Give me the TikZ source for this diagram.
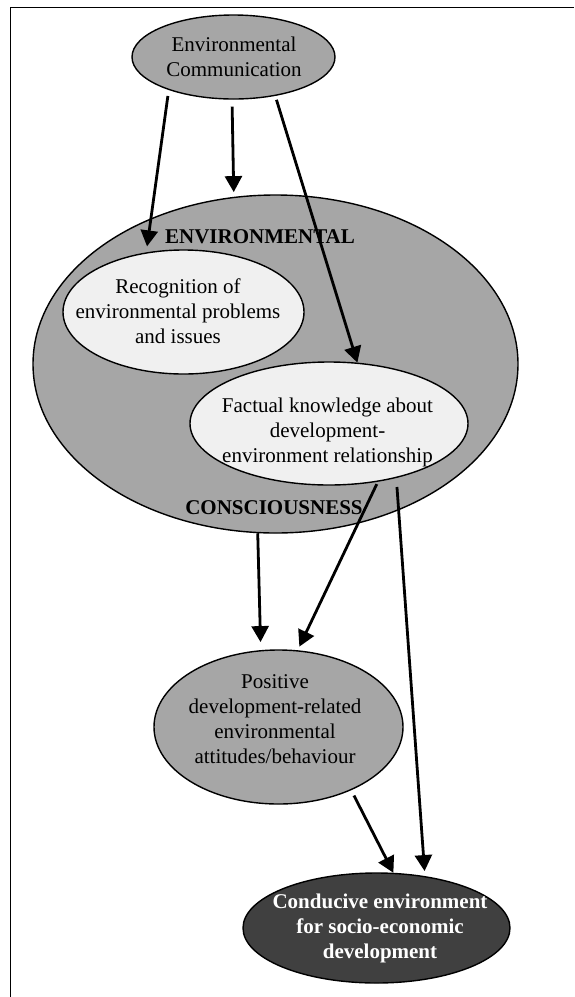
\documentclass[tikz,border=0pt]{standalone}
\usepackage{fontspec}
\setmainfont{Liberation Serif}
\usetikzlibrary{arrows.meta,shapes.geometric}
\definecolor{midgray}{RGB}{166,166,166}
\definecolor{palegray}{RGB}{240,240,240}
\definecolor{deepgray}{RGB}{64,64,64}
\begin{document}
\begin{tikzpicture}[x=1pt,y=-1pt,
  blob/.style={ellipse, draw, line width=1.4pt, inner sep=0pt},
  txt/.style={align=center, inner sep=0pt, font=\fontsize{21}{25}\selectfont},
  btxt/.style={align=center, inner sep=0pt, font=\fontsize{21}{25}\selectfont\bfseries},
  arr/.style={line width=2.8pt, -{Triangle[length=16pt,width=17pt]}}]
\useasboundingbox (0,0) rectangle (574,997);
\fill[white] (0,0) rectangle (574,997);
\draw[line width=1.5pt] (574,7.5) -- (10.5,7.5) -- (10.5,997);

\node[blob, fill=midgray, minimum width=485pt, minimum height=338pt] (big) at (275.5,364) {};
\node[blob, fill=midgray, minimum width=203pt, minimum height=84pt] (ec) at (233.5,57) {};
\node[blob, fill=palegray, minimum width=241pt, minimum height=124pt] (rec) at (183.5,312) {};
\node[blob, fill=palegray, minimum width=278pt, minimum height=123pt] (fac) at (329,423.5) {};
\node[blob, fill=midgray, minimum width=249pt, minimum height=154pt] (pos) at (278.5,727) {};
\node[blob, fill=deepgray, minimum width=267pt, minimum height=110pt] (con) at (376.5,928) {};

\node[txt] (ecT) at (234,57) {Environmental\\Communication};
\node[txt] (recT) at (178,311) {Recognition of\\environmental problems\\and issues};
\node[txt] (facT) at (327.5,432) {Factual knowledge about\\development-\\environment relationship};
\node[txt] (posT) at (275,719) {Positive\\development-related\\environmental\\attitudes/behaviour};
\node[btxt, text=white] (conT) at (380,928) {Conducive environment\\for socio-economic\\development};
\node[btxt] (envT) at (260,237) {ENVIRONMENTAL};
\node[btxt] (conscT) at (274,508) {CONSCIOUSNESS};

\draw[arr, shorten <=6pt, shorten >=6pt] (ec.207.7) -- (rec.122.3);
\draw[arr, shorten <=7pt, shorten >=4.7pt] (ec.268) -- (big.104.7);
\draw[arr, shorten <=4pt] (ec.317.3) -- (fac.65.5);
\draw[arr, shorten <=2.6pt, shorten >=4pt] (fac.310.6) -- (pos.76.3);
\draw[arr, shorten <=9pt, shorten >=5pt] (fac.321.9) -- (con.47.4);
\draw[arr, shorten >=8pt] (big.264.8) -- (pos.103.8);
\draw[arr, shorten <=6pt] (pos.319.9) -- (con.73.6);
\end{tikzpicture}
\end{document}
